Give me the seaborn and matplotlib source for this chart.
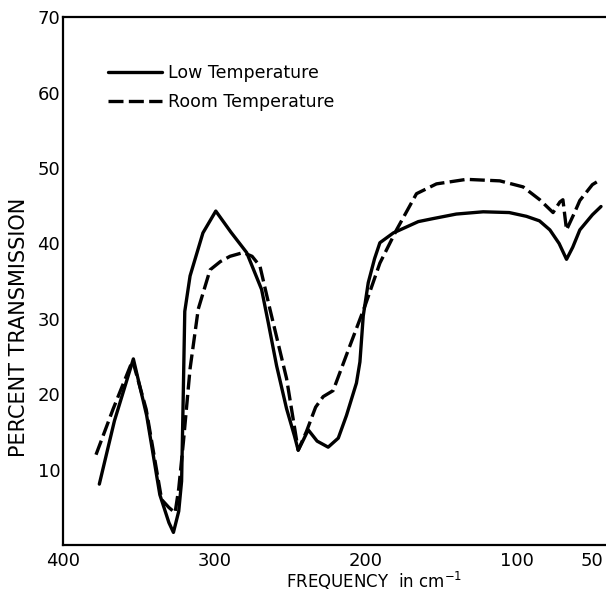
import numpy as np
import pandas as pd
import matplotlib.pyplot as plt
import seaborn as sns

# Low Temperature curve (solid)
low_freq = [376, 366, 353.5, 344.7, 336, 330, 327, 323.5, 321.6, 320.5, 319.5, 316,
            307.5, 299, 289, 278.6, 268.7, 264.3, 258.8, 252.2, 247, 244.5, 241,
            237.9, 232, 224.7, 218, 212.6, 206, 203.7, 201.5, 198.2, 194, 190.5,
            181.6, 165.1, 155.3, 140, 122.2, 105, 93.6, 85, 78.1, 72, 67.1, 63,
            58.3, 50, 44.3]
low_trans = [8.1, 16.5, 24.7, 17.2, 6.7, 3.0, 1.7, 4.5, 8.5, 20, 31, 35.7,
             41.4, 44.3, 41.5, 38.8, 33.9, 29.5, 23.8, 18.1, 14.5, 12.6, 14.0,
             15.3, 13.8, 13.0, 14.2, 17.2, 21.5, 24.3, 30.4, 34.8, 38.0, 40.1,
             41.4, 42.9, 43.3, 43.9, 44.2, 44.1, 43.6, 43.0, 41.8, 40.0, 37.9, 39.5,
             41.8, 43.8, 44.9]

# Room Temperature curve (dashed)
room_freq = [378.2, 366.8, 360, 354, 345, 334.8, 330, 325.9, 323.5, 320.4, 316,
             310.6, 302.8, 296, 289.6, 280.8, 275, 269.8, 263.2, 252.2, 244.5, 239,
             233, 228, 221.4, 210.4, 200.4, 190.5, 179.5, 166.3, 153.1, 133.3,
             111.2, 95.8, 84.8, 76, 71.5, 69.5, 67.1, 62, 58.3, 50, 44.3]
room_trans = [12.0, 18.1, 21.5, 24.5, 18, 6.05, 5.0, 4.3, 7.5, 13.7, 23.4,
              31.3, 36.5, 37.6, 38.3, 38.8, 38.3, 37.0, 31.3, 22.1, 12.6, 15.1,
              18.3, 19.7, 20.5, 26.4, 31.7, 37.4, 41.8, 46.6, 47.9, 48.5,
              48.3, 47.5, 45.8, 44.1, 45.5, 45.8, 41.8, 44.0, 45.7, 47.8, 48.5]

x_ticks = [400, 300, 200, 100, 50]
y_ticks = [10, 20, 30, 40, 50, 60, 70]

low = pd.DataFrame({"freq": low_freq, "trans": low_trans})
room = pd.DataFrame({"freq": room_freq, "trans": room_trans})

sns.set_style("white")
plt.rcParams['font.family'] = ['DejaVu Sans']
plt.rcParams['text.color'] = 'black'
plt.rcParams['axes.labelcolor'] = 'black'

fig = plt.figure(figsize=(6.06, 5.92), dpi=100)
ax = fig.add_axes([0.104, 0.079, 0.896, 0.892])

dash = [4.5, 1.6]
sns.lineplot(data=low, x="freq", y="trans", ax=ax, color="black", linewidth=2.4,
             label="Low Temperature", sort=False)
sns.lineplot(data=room, x="freq", y="trans", ax=ax, color="black", linewidth=2.4,
             label="Room Temperature", sort=False)
ax.lines[1].set_dashes(dash)

ax.set_xlim(400, 41)
ax.set_ylim(0, 70)
ax.set_xticks(x_ticks)
ax.set_yticks(y_ticks)
ax.tick_params(direction="in", length=8.5, width=1.5, labelsize=13, colors="black")
ax.tick_params(axis="x", pad=5)
ax.tick_params(axis="y", pad=2)

for s in ["left", "bottom", "top"]:
    ax.spines[s].set_linewidth(1.6)
    ax.spines[s].set_color("black")
ax.spines["right"].set_visible(False)

ax.set_xlabel("FREQUENCY  in cm$^{-1}$", fontsize=12, color="black")
ax.xaxis.set_label_coords(0.573, -0.047)
ax.set_ylabel("PERCENT TRANSMISSION", fontsize=15, color="black")
ax.yaxis.set_label_coords(-0.063, 0.413)

leg = ax.legend(loc="upper left", bbox_to_anchor=(0.083, 0.911), frameon=False,
                fontsize=12.5, handlelength=3.1, handletextpad=0.35, labelspacing=0.65,
                borderaxespad=0, borderpad=0)
leg.get_lines()[1].set_dashes(dash)
for t in leg.get_texts():
    t.set_color("black")

plt.savefig("out.png", dpi=100)
